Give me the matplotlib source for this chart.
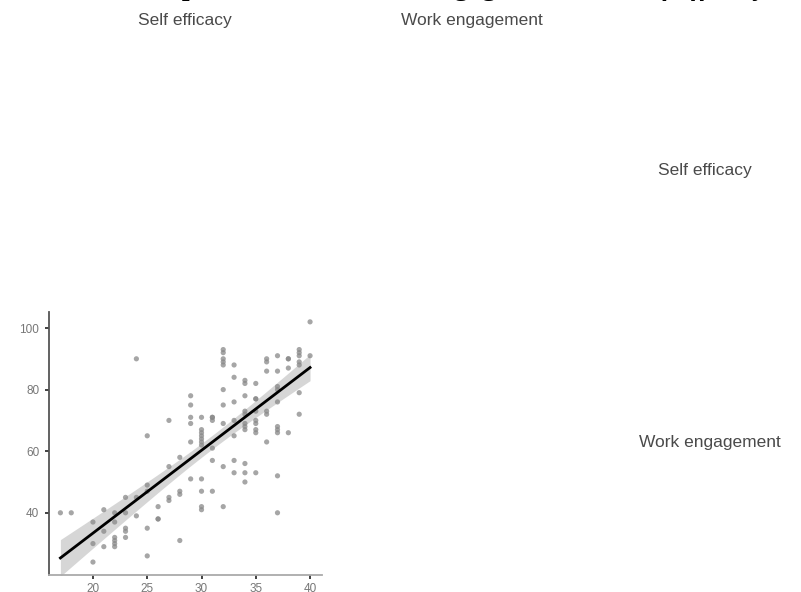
import numpy as np
import matplotlib
matplotlib.use("Agg")
import matplotlib.pyplot as plt

# ---------------- data ----------------
variables = ["Self efficacy", "Work engagement"]

self_efficacy = [
    17, 18,
    20, 20, 20,
    21, 21, 21,
    22, 22, 22, 22, 22, 22,
    23, 23, 23, 23, 23,
    24, 24, 24,
    25, 25, 25, 25, 25,
    26, 26, 26,
    27, 27, 27, 27,
    28, 28, 28, 28,
    29, 29, 29, 29, 29, 29,
    30, 30, 30, 30, 30, 30, 30, 30, 30, 30, 30,
    31, 31, 31, 31, 31, 31,
    32, 32, 32, 32, 32, 32, 32, 32, 32, 32,
    33, 33, 33, 33, 33, 33, 33,
    34, 34, 34, 34, 34, 34, 34, 34, 34, 34, 34,
    35, 35, 35, 35, 35, 35, 35, 35, 35,
    36, 36, 36, 36, 36, 36,
    37, 37, 37, 37, 37, 37, 37, 37, 37, 37,
    38, 38, 38, 38,
    39, 39, 39, 39, 39, 39, 39,
    40, 40,
]
work_engagement = [
    40, 40,
    37, 30, 24,
    41, 34, 29,
    40, 37, 32, 31, 30, 29,
    45, 40, 35, 34, 32,
    90, 45, 39,
    65, 49, 47, 35, 26,
    42, 38, 38,
    70, 55, 45, 44,
    58, 47, 46, 31,
    78, 75, 71, 69, 63, 51,
    71, 67, 66, 65, 64, 63, 62, 51, 47, 42, 41,
    71, 71, 70, 61, 57, 47,
    93, 92, 90, 89, 88, 80, 75, 69, 55, 42,
    88, 84, 76, 70, 65, 57, 53,
    83, 82, 78, 73, 72, 69, 68, 67, 56, 53, 50,
    82, 77, 77, 73, 70, 69, 67, 66, 53,
    90, 89, 86, 73, 72, 63,
    91, 86, 81, 80, 76, 68, 67, 66, 52, 40,
    90, 90, 87, 66,
    93, 92, 91, 89, 88, 79, 72,
    102, 91,
]

x_ticks = [20, 25, 30, 35, 40]
y_ticks = [40, 60, 80, 100]
title_main = "Scatterplot matrix of Work engagement and "
title_italic = "Self efficacy"

# ---------------- figure ----------------
plt.rcParams["font.family"] = ["Liberation Sans", "DejaVu Sans"]
fig = plt.figure(figsize=(8.01, 5.92), dpi=100)
W, H = 801, 592


def fx(px):
    return px / W


def fy(py):
    return 1 - py / H


# scatter axes (bottom-left cell)
ax = fig.add_axes([fx(49), fy(575), fx(322) - fx(49), fy(312) - fy(575)])
x = np.array(self_efficacy, dtype=float)
y = np.array(work_engagement, dtype=float)
ax.scatter(x, y, s=14, color="#888888", alpha=0.75, edgecolors="none", zorder=2)

# linear fit with 95% CI
n = len(x)
b1, b0 = np.polyfit(x, y, 1)
xs = np.linspace(x.min(), x.max(), 200)
ys = b0 + b1 * xs
resid = y - (b0 + b1 * x)
s = np.sqrt(np.sum(resid ** 2) / (n - 2))
se = s * np.sqrt(1 / n + (xs - x.mean()) ** 2 / np.sum((x - x.mean()) ** 2))
ax.fill_between(xs, ys - 1.98 * se, ys + 1.98 * se, color="#cfcfcf", alpha=0.85,
                linewidth=0, zorder=1)
ax.plot(xs, ys, color="black", linewidth=2, zorder=3)

ax.set_xlim(15.95, 41.1)
ax.set_ylim(19.8, 105.2)
ax.set_xticks(x_ticks)
ax.set_yticks(y_ticks)
ax.set_xticklabels([str(t) for t in x_ticks])
ax.set_yticklabels([str(t) for t in y_ticks])
for side in ["top", "right"]:
    ax.spines[side].set_visible(False)
ax.spines["left"].set_color("#555555")
ax.spines["bottom"].set_color("#aaaaaa")
ax.spines["left"].set_linewidth(1.3)
ax.spines["bottom"].set_linewidth(1.3)
ax.tick_params(axis="both", length=3, width=1.3, color="#333333",
               labelsize=8.5, labelcolor="#777777", pad=4)
ax.tick_params(axis="x", pad=3)

# strip labels
strip_kw = dict(fontsize=12.5, color="#4a4a4a", ha="center", va="center")
fig.text(fx(185), fy(20), variables[0], **strip_kw)
fig.text(fx(472), fy(20), variables[1], **strip_kw)
fig.text(fx(705), fy(170), variables[0], **strip_kw)
fig.text(fx(710), fy(443), variables[1], **strip_kw)

# cut-off title at the very top
renderer = fig.canvas.get_renderer()
t_it = fig.text(fx(768), fy(-5), title_italic, fontsize=20, fontweight="bold",
                style="italic", family="Liberation Serif", ha="right",
                va="baseline")
bb = t_it.get_window_extent(renderer=renderer)
fig.text(bb.x0 / W, fy(-5), title_main, fontsize=20, fontweight="bold",
         family="Liberation Serif", ha="right", va="baseline")

fig.savefig("out.png", dpi=100)
